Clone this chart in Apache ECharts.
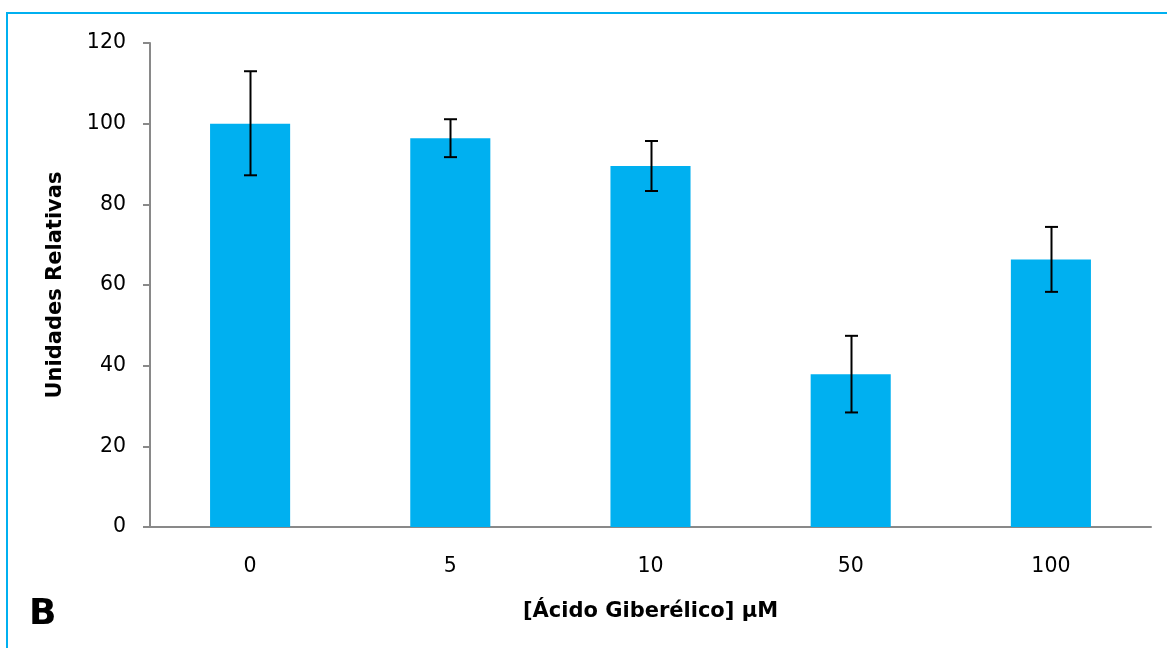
<!DOCTYPE html>
<html>
<head>
<meta charset="utf-8">
<script src="https://cdn.jsdelivr.net/npm/echarts@6/dist/echarts.min.js"></script>
<style>
html, body { margin: 0; padding: 0; background: #fff; }
#chart { width: 1167px; height: 648px; }
</style>
</head>
<body>
<div id="chart"></div>
<script>
var categories = ['0', '5', '10', '50', '100']
var means = [100, 96.4, 89.5, 37.9, 66.3]
var errLow = [87.2, 91.7, 83.3, 28.4, 58.3]
var errHigh = [113, 101.1, 95.7, 47.4, 74.4]
var yTicks = [0, 20, 40, 60, 80, 100, 120]

var font = '"DejaVu Sans", Verdana, sans-serif'
var axisGray = '#898989'

var errData = categories.map(function (c, i) {
	return [i, errLow[i], errHigh[i]]
})

var myChart = echarts.init(document.getElementById('chart'))

var option = {
	animation: false,
	backgroundColor: '#fff',
	grid: { left: 150, right: 16, top: 43, bottom: 121, outerBoundsMode: 'none' },
	graphic: [
		{ type: 'line', shape: { x1: 6, y1: 13, x2: 1167, y2: 13 }, style: { stroke: '#00B0F0', lineWidth: 2 } },
		{ type: 'line', shape: { x1: 7, y1: 12, x2: 7, y2: 648 }, style: { stroke: '#00B0F0', lineWidth: 2 } },
		{ type: 'text', left: 29, top: 597, style: { text: 'B', font: 'bold 36px ' + font, fill: '#000' } }
	],
	xAxis: {
		type: 'category',
		data: categories,
		name: '[Ácido Giberélico] µM',
		nameLocation: 'middle',
		nameGap: 74,
		nameTextStyle: { fontFamily: font, fontWeight: 'bold', fontSize: 21, color: '#000' },
		axisLine: { lineStyle: { color: axisGray, width: 2 } },
		axisTick: { length: 7, lineStyle: { color: axisGray, width: 2 } },
		axisLabel: { margin: 29, fontFamily: font, fontSize: 20.5, color: '#000' }
	},
	yAxis: {
		type: 'value',
		min: 0,
		max: 120,
		interval: 20,
		name: 'Unidades Relativas',
		nameLocation: 'middle',
		nameGap: 84,
		nameTextStyle: { fontFamily: font, fontWeight: 'bold', fontSize: 21, color: '#000' },
		splitLine: { show: false },
		axisLine: { show: true, lineStyle: { color: axisGray, width: 2 } },
		axisTick: { show: true, length: 7, lineStyle: { color: axisGray, width: 2 } },
		axisLabel: {
			margin: 24, fontFamily: font, fontSize: 20.5, color: '#000',
			formatter: function (v) { return yTicks.indexOf(v) >= 0 ? String(v) : '' }
		}
	},
	series: [
		{
			type: 'bar',
			data: means,
			barWidth: '40%',
			itemStyle: { color: '#00B0F0' }
		},
		{
			type: 'custom',
			data: errData,
			z: 10,
			renderItem: function (params, api) {
				var lo = api.coord([api.value(0), api.value(1)])
				var hi = api.coord([api.value(0), api.value(2)])
				var x = Math.round(lo[0]) + 0.5
				var w = 6.5
				var st = { stroke: '#000', lineWidth: 2 }
				return {
					type: 'group',
					children: [
						{ type: 'line', shape: { x1: x, y1: lo[1], x2: x, y2: hi[1] }, style: st },
						{ type: 'line', shape: { x1: x - w, y1: hi[1], x2: x + w, y2: hi[1] }, style: st },
						{ type: 'line', shape: { x1: x - w, y1: lo[1], x2: x + w, y2: lo[1] }, style: st }
					]
				}
			}
		}
	]
}

myChart.setOption(option, true)
</script>
</body>
</html>
